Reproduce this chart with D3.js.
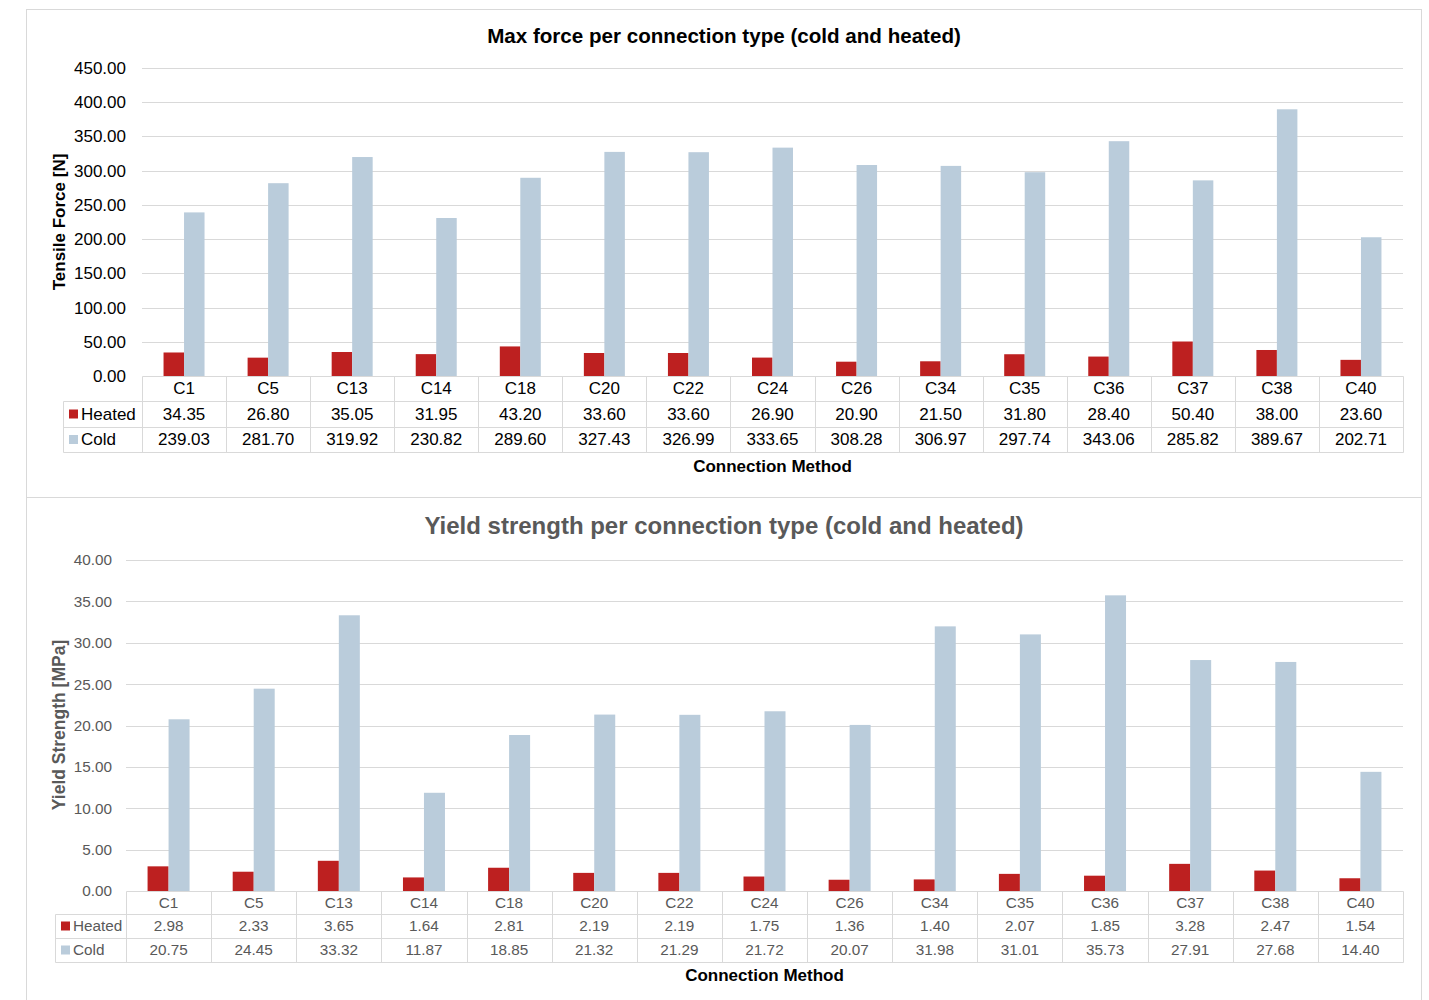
<!DOCTYPE html>
<html><head><meta charset="utf-8">
<script src="https://cdn.jsdelivr.net/npm/d3@7"></script>
<style>body{margin:0;background:#fff}svg{display:block;font-family:"Liberation Sans",Arial,Helvetica,sans-serif}</style>
</head><body>
<svg id="c" width="1429" height="1000"></svg>
<script>
const categories = ["C1","C5","C13","C14","C18","C20","C22","C24","C26","C34","C35","C36","C37","C38","C40"];
const seriesNames = ["Heated","Cold"];
const forceHeated = [34.35,26.80,35.05,31.95,43.20,33.60,33.60,26.90,20.90,21.50,31.80,28.40,50.40,38.00,23.60];
const forceCold = [239.03,281.70,319.92,230.82,289.60,327.43,326.99,333.65,308.28,306.97,297.74,343.06,285.82,389.67,202.71];
const yieldHeated = [2.98,2.33,3.65,1.64,2.81,2.19,2.19,1.75,1.36,1.40,2.07,1.85,3.28,2.47,1.54];
const yieldCold = [20.75,24.45,33.32,11.87,18.85,21.32,21.29,21.72,20.07,31.98,31.01,35.73,27.91,27.68,14.40];
const forceTicks = [0,50,100,150,200,250,300,350,400,450];
const yieldTicks = [0,5,10,15,20,25,30,35,40];

const colors = {Heated:"#BD2020", Cold:"#BACCDB"};
const svg = d3.select("#c");
const grid = "#D9D9D9";

// panel frames
svg.append("rect").attr("x",26.5).attr("y",9.5).attr("width",1395).attr("height",488).attr("fill","none").attr("stroke",grid);
svg.append("rect").attr("x",26.5).attr("y",497.5).attr("width",1395).attr("height",520).attr("fill","none").attr("stroke",grid);

function panel(o){
  const g = svg.append("g");
  const x = d3.scaleBand().domain(categories).range([o.left,o.right]).padding(0);
  const barW = o.barW;
  const xs = d3.scaleBand().domain(seriesNames).range([0,barW*2]).padding(0);
  const y = d3.scaleLinear().domain([0,o.ticks[o.ticks.length-1]]).range([o.bottom,o.top]);
  g.append("g").selectAll("line").data(o.ticks.slice(1)).join("line")
    .attr("x1",o.left).attr("x2",o.right).attr("y1",d=>Math.round(y(d))+0.5).attr("y2",d=>Math.round(y(d))+0.5)
    .attr("stroke",grid).attr("stroke-width",1);
  const ax = g.append("g").attr("transform",`translate(${o.left},0)`)
    .call(d3.axisLeft(y).tickValues(o.ticks).tickFormat(d3.format(".2f")).tickSize(0).tickPadding(o.tickPad));
  ax.select(".domain").remove();
  ax.selectAll("text").attr("font-size",o.fs).attr("fill",o.tickColor).attr("font-family","Liberation Sans, Arial, sans-serif");
  const data = [o.heated,o.cold];
  seriesNames.forEach((s,si)=>{
    g.append("g").selectAll("rect").data(categories).join("rect")
      .attr("x",(c)=>x(c)+x.bandwidth()/2-barW+xs(s))
      .attr("width",xs.bandwidth())
      .attr("y",(c,i)=>y(data[si][i]))
      .attr("height",(c,i)=>o.bottom-y(data[si][i]))
      .attr("fill",colors[s]);
  });
  const r0=o.bottom, r1=o.bottom+o.rh[0], r2=r1+o.rh[1], r3=r2+o.rh[2];
  const L=[];
  L.push([o.left,r0,o.right,r0]);
  L.push([o.legLeft,r1,o.right,r1]);
  L.push([o.legLeft,r2,o.right,r2]);
  L.push([o.legLeft,r3,o.right,r3]);
  L.push([o.legLeft,r1,o.legLeft,r3]);
  categories.forEach(c=>L.push([x(c),r0,x(c),r3]));
  L.push([o.right,r0,o.right,r3]);
  g.append("g").selectAll("line").data(L).join("line")
    .attr("x1",d=>Math.round(d[0])+0.5).attr("y1",d=>Math.round(d[1])+0.5)
    .attr("x2",d=>Math.round(d[2])+0.5).attr("y2",d=>Math.round(d[3])+0.5)
    .attr("stroke",grid);
  const tcol = o.tickColor;
  g.append("g").selectAll("text").data(categories).join("text")
    .attr("x",c=>x(c)+x.bandwidth()/2).attr("y",(r0+r1)/2).attr("dy","0.35em")
    .attr("text-anchor","middle").attr("font-size",o.fs).attr("fill",tcol).text(c=>c);
  const rowsY=[(r1+r2)/2,(r2+r3)/2];
  seriesNames.forEach((s,si)=>{
    g.append("g").selectAll("text").data(categories).join("text")
      .attr("x",c=>x(c)+x.bandwidth()/2).attr("y",rowsY[si]).attr("dy","0.35em")
      .attr("text-anchor","middle").attr("font-size",o.fs).attr("fill",tcol)
      .text((c,i)=>d3.format(".2f")(data[si][i]));
    g.append("rect").attr("x",o.legLeft+6).attr("y",rowsY[si]-4.5).attr("width",9).attr("height",9).attr("fill",colors[s]);
    g.append("text").attr("x",o.legLeft+18).attr("y",rowsY[si]).attr("dy","0.35em")
      .attr("font-size",o.fs).attr("fill",tcol).text(s);
  });
  g.append("text").attr("x",o.titleX).attr("y",o.titleY).attr("text-anchor","middle")
    .attr("font-size",o.titleFs).attr("font-weight","bold").attr("fill",o.titleColor).text(o.title);
  g.append("text").attr("x",(o.left+o.right)/2).attr("y",o.xTitleY).attr("text-anchor","middle")
    .attr("font-size",17).attr("font-weight","bold").attr("fill","#000").text("Connection Method");
  g.append("text").attr("transform",`translate(${o.yTitleX},${o.yTitleCY}) rotate(-90)`).attr("text-anchor","middle")
    .attr("font-size",o.yTitleFs).attr("font-weight","bold").attr("fill",o.titleColor).text(o.yTitle);
}

panel({left:142,right:1403,top:68,bottom:376,ticks:forceTicks,heated:forceHeated,cold:forceCold,
  barW:20.5,fs:17,tickColor:"#000",tickPad:16,rh:[25,26,25],legLeft:63,
  title:"Max force per connection type (cold and heated)",titleX:724,titleY:43,titleFs:20.6,titleColor:"#000",
  xTitleY:472,yTitle:"Tensile Force [N]",yTitleX:65,yTitleCY:222,yTitleFs:17,});
panel({left:126,right:1403,top:560,bottom:891,ticks:yieldTicks,heated:yieldHeated,cold:yieldCold,
  barW:21,fs:15.3,tickColor:"#595959",tickPad:14,rh:[23,24,24],legLeft:55,
  title:"Yield strength per connection type (cold and heated)",titleX:724,titleY:534,titleFs:24,titleColor:"#595959",
  xTitleY:981,yTitle:"Yield Strength [MPa]",yTitleX:65,yTitleCY:725,yTitleFs:17.5});
</script>
</body></html>
